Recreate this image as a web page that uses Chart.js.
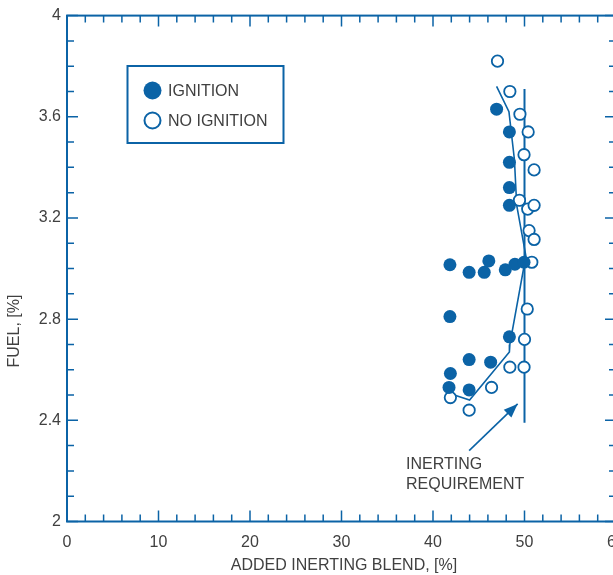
<!DOCTYPE html>
<html><head><meta charset="utf-8">
<script src="https://cdn.jsdelivr.net/npm/chart.js@4"></script>
<style>html,body{margin:0;padding:0;overflow:hidden;background:#fff}#wrap{width:640px;height:575px;position:relative}</style>
</head><body><div id="wrap"><canvas id="c" width="640" height="575"></canvas></div>
<script>
// ---- data ----
const xTickLabels = ['0','10','20','30','40','50','60'];
const yTickLabels = ['2','2.4','2.8','3.2','3.6','4'];
const legendLabels = ['IGNITION','NO IGNITION'];
const xTitle = 'ADDED INERTING BLEND, [%]';
const yTitle = 'FUEL, [%]';
const noteLines = ['INERTING','REQUIREMENT'];

const ignitionX = [46.95, 48.35, 48.35, 48.35, 48.35, 41.85, 43.95, 45.6, 46.1, 47.9, 48.95, 49.95, 41.85, 48.35, 43.95, 46.3, 41.9, 41.75, 43.95];
const ignitionY = [3.63, 3.54, 3.42, 3.32, 3.25, 3.015, 2.985, 2.985, 3.03, 2.995, 3.017, 3.025, 2.81, 2.73, 2.64, 2.63, 2.585, 2.53, 2.52];

const noIgnitionX = [47.05, 48.4, 49.5, 50.4, 49.95, 51.05, 49.45, 50.35, 51.05, 50.5, 51.05, 50.8, 50.3, 50.0, 49.95, 48.4, 46.4, 41.9, 43.95];
const noIgnitionY = [3.82, 3.70, 3.61, 3.54, 3.45, 3.39, 3.27, 3.235, 3.25, 3.15, 3.115, 3.025, 2.84, 2.72, 2.61, 2.61, 2.53, 2.49, 2.44];

const requirementX = [50.0, 50.0];
const requirementY = [3.71, 2.39];

const boundaryX = [46.95, 48.3, 48.9, 49.15, 50.15, 48.4, 48.35, 44.0, 41.9];
const boundaryY = [3.72, 3.62, 3.43, 3.25, 3.05, 2.70, 2.67, 2.48, 2.505];

const arrowX = [43.95, 49.25];
const arrowY = [2.28, 2.465];

// ---- styling ----
const BLUE = '#0b63a6';
const TEXT = '#404040';
const FONT = '"Liberation Sans", Arial, sans-serif';

const zip = (xs, ys) => xs.map((x, i) => ({x: x, y: ys[i]}));

const framePlugin = {
  id: 'frame',
  afterDraw(chart) {
    const ctx = chart.ctx, a = chart.chartArea;
    const xs = chart.scales.x, ys = chart.scales.y;
    ctx.save();
    ctx.strokeStyle = BLUE; ctx.lineWidth = 2;
    ctx.strokeRect(a.left, a.top, a.right - a.left, a.bottom - a.top);
    // inward tick marks
    ctx.lineWidth = 1.5;
    ctx.beginPath();
    for (let i = 0; i <= 30; i++) {
      const px = xs.getPixelForValue(i * 2);
      const len = (i % 5 === 0) ? 11 : 7;
      ctx.moveTo(px, a.bottom); ctx.lineTo(px, a.bottom - len);
      ctx.moveTo(px, a.top); ctx.lineTo(px, a.top + len);
    }
    for (let i = 0; i <= 20; i++) {
      const py = ys.getPixelForValue(2 + i * 0.1);
      const len = (i % 4 === 0) ? 11 : 7;
      ctx.moveTo(a.left, py); ctx.lineTo(a.left + len, py);
      ctx.moveTo(a.right, py); ctx.lineTo(a.right - len, py);
    }
    ctx.stroke();

    // arrow head
    const x0 = xs.getPixelForValue(arrowX[0]), y0 = ys.getPixelForValue(arrowY[0]);
    const x1 = xs.getPixelForValue(arrowX[1]), y1 = ys.getPixelForValue(arrowY[1]);
    const ang = Math.atan2(y1 - y0, x1 - x0);
    const L = 14, W = 5.5;
    ctx.fillStyle = BLUE;
    ctx.beginPath();
    ctx.moveTo(x1, y1);
    ctx.lineTo(x1 - L * Math.cos(ang) + W * Math.sin(ang), y1 - L * Math.sin(ang) - W * Math.cos(ang));
    ctx.lineTo(x1 - L * Math.cos(ang) - W * Math.sin(ang), y1 - L * Math.sin(ang) + W * Math.cos(ang));
    ctx.closePath(); ctx.fill();

    // annotation text
    ctx.fillStyle = TEXT;
    ctx.font = '16px ' + FONT;
    ctx.textAlign = 'left'; ctx.textBaseline = 'middle';
    ctx.fillText(noteLines[0], 406, 465);
    ctx.fillText(noteLines[1], 406, 484.5);

    // axis titles
    ctx.textAlign = 'center';
    ctx.fillText(xTitle, 344, 566);
    ctx.save();
    ctx.translate(15, 331);
    ctx.rotate(-Math.PI / 2);
    ctx.fillText(yTitle, 0, 0);
    ctx.restore();

    // legend box
    ctx.strokeStyle = BLUE; ctx.lineWidth = 2;
    ctx.strokeRect(127.5, 66, 156, 77);
    ctx.fillStyle = BLUE;
    ctx.beginPath(); ctx.arc(152.5, 90.5, 9, 0, Math.PI * 2); ctx.fill();
    ctx.fillStyle = '#fff'; ctx.lineWidth = 2;
    ctx.beginPath(); ctx.arc(152.5, 120.5, 8, 0, Math.PI * 2); ctx.fill(); ctx.stroke();
    ctx.fillStyle = TEXT;
    ctx.textAlign = 'left';
    ctx.fillText(legendLabels[0], 168, 91.5);
    ctx.fillText(legendLabels[1], 168, 121.5);
    ctx.restore();
  }
};

new Chart(document.getElementById('c'), {
  type: 'scatter',
  data: {
    datasets: [
      { label: legendLabels[0], data: zip(ignitionX, ignitionY), pointRadius: 6.5, pointHoverRadius: 6.5,
        backgroundColor: BLUE, borderColor: BLUE, borderWidth: 0 },
      { label: legendLabels[1], data: zip(noIgnitionX, noIgnitionY), pointRadius: 5.7, pointHoverRadius: 5.7,
        backgroundColor: '#ffffff', borderColor: BLUE, borderWidth: 1.8 },
      { label: 'requirement', data: zip(requirementX, requirementY), showLine: true, pointRadius: 0,
        borderColor: BLUE, borderWidth: 2, fill: false },
      { label: 'boundary', data: zip(boundaryX, boundaryY), showLine: true, pointRadius: 0,
        borderColor: BLUE, borderWidth: 1.6, fill: false, tension: 0 },
      { label: 'arrow', data: zip(arrowX, arrowY), showLine: true, pointRadius: 0,
        borderColor: BLUE, borderWidth: 1.6, fill: false }
    ]
  },
  options: {
    responsive: false, animation: false, devicePixelRatio: 1,
    layout: { padding: { left: 0, top: 14, right: 24, bottom: 0 } },
    plugins: { legend: { display: false }, tooltip: { enabled: false } },
    scales: {
      x: {
        type: 'linear', position: 'bottom', min: 0, max: 60,
        grid: { display: false, drawTicks: false },
        border: { display: false },
        afterBuildTicks: s => { s.ticks = xTickLabels.map(v => ({ value: Number(v) })); },
        afterFit: s => { s.height = 53.5; },
        ticks: { color: TEXT, font: { family: FONT, size: 16 }, padding: 11, maxRotation: 0, autoSkip: false,
          callback: (v) => xTickLabels[xTickLabels.map(Number).indexOf(v)] }
      },
      y: {
        type: 'linear', position: 'left', min: 2, max: 4,
        grid: { display: false, drawTicks: false },
        border: { display: false },
        afterBuildTicks: s => { s.ticks = yTickLabels.map(v => ({ value: Number(v) })); },
        afterFit: s => { s.width = 67; },
        ticks: { color: TEXT, font: { family: FONT, size: 16 }, padding: 6, autoSkip: false,
          callback: (v) => yTickLabels[yTickLabels.map(Number).indexOf(v)] }
      }
    }
  },
  plugins: [framePlugin]
});
</script>
</body></html>
